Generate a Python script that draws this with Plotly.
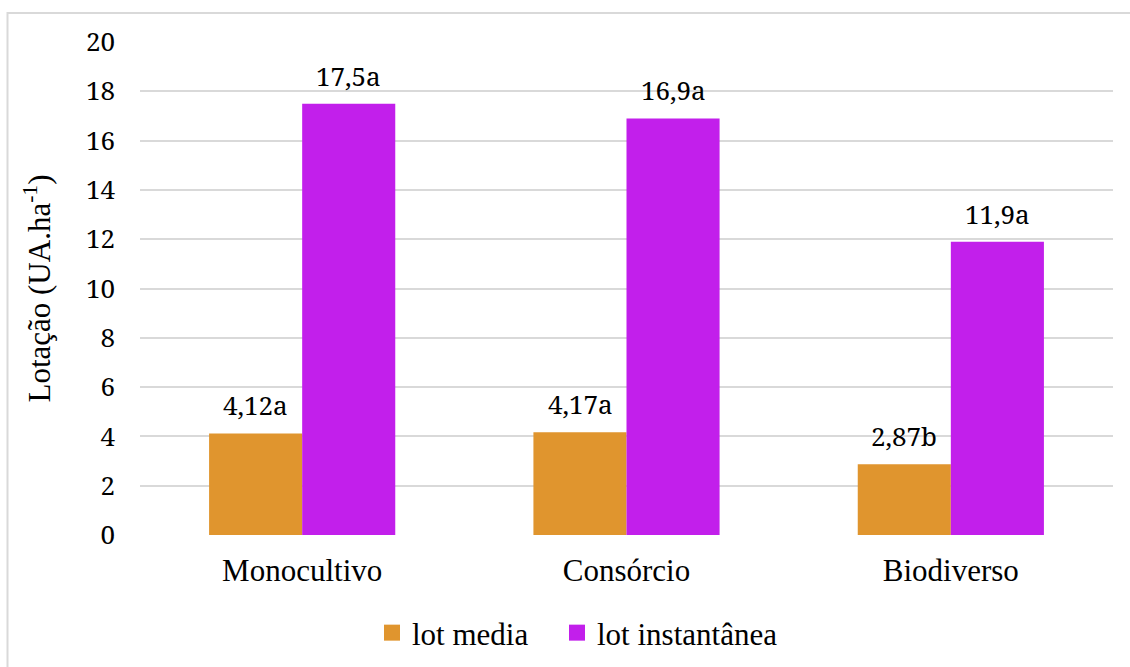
import plotly.graph_objects as go

# Stocking rate per production system
categories = ["Monocultivo", "Consórcio", "Biodiverso"]
lot_media = [4.12, 4.17, 2.87]
lot_media_letters = ["a", "a", "b"]
lot_inst = [17.5, 16.9, 11.9]
lot_inst_letters = ["a", "a", "a"]
y_ticks = [0, 2, 4, 6, 8, 10, 12, 14, 16, 18, 20]

ORANGE = "#E0952E"
PURPLE = "#C21FEB"
TEXT_FONT = "Liberation Serif"
NUM_FONT = "Noto Serif"
NUM_SIZE = 26
TXT_SIZE = 31

L, R, T, B = 140, 17, 42, 132
W, H = 1130, 667
pw = W - L - R
ph = H - T - B
BAR_HALF = 46.5  # px offset of each grouped bar centre from its category


def labels(values, letters):
    return [f"{str(v).replace('.', ',')}{l}" for v, l in zip(values, letters)]


fig = go.Figure()
fig.add_trace(go.Bar(
    x=categories, y=lot_media, name="lot media",
    marker=dict(color=ORANGE, line=dict(width=0)), showlegend=False,
))
fig.add_trace(go.Bar(
    x=categories, y=lot_inst, name="lot instantânea",
    marker=dict(color=PURPLE, line=dict(width=0)), showlegend=False,
))
# legend entries with square swatches, one legend box each
for name, color, lg in [("lot media", ORANGE, "legend"),
                        ("lot instantânea", PURPLE, "legend2")]:
    fig.add_trace(go.Scatter(
        x=[categories[0]], y=[None], mode="markers", name=name,
        marker=dict(symbol="square", size=16, color=color),
        showlegend=True, hoverinfo="skip", legend=lg,
    ))

# value labels above each bar
annotations = []
for vals, lets, shift in [(lot_media, lot_media_letters, -BAR_HALF),
                          (lot_inst, lot_inst_letters, BAR_HALF)]:
    for cat, v, txt in zip(categories, vals, labels(vals, lets)):
        annotations.append(dict(
            x=cat, y=v, xref="x", yref="y", text=txt, showarrow=False,
            xanchor="center", yanchor="bottom", xshift=shift, yshift=8,
            font=dict(family=NUM_FONT, size=NUM_SIZE, color="#000000"),
        ))

legend_common = dict(
    orientation="h", yanchor="middle", y=(H - B - 633) / ph, xanchor="left",
    font=dict(family=TEXT_FONT, size=TXT_SIZE, color="#000000"),
    bgcolor="rgba(0,0,0,0)", borderwidth=0,
)

fig.update_layout(
    width=W, height=H,
    margin=dict(l=L, r=R, t=T, b=B, pad=0, autoexpand=False),
    paper_bgcolor="white", plot_bgcolor="white",
    barmode="group", bargap=0.426, bargroupgap=0,
    font=dict(family=TEXT_FONT, color="#000000"),
    showlegend=True,
    legend=dict(x=(372 - L) / pw, **legend_common),
    legend2=dict(x=(557 - L) / pw, **legend_common),
    xaxis=dict(
        categoryorder="array", categoryarray=categories,
        showgrid=False, zeroline=False, showline=False, ticks="",
        tickfont=dict(family=TEXT_FONT, size=TXT_SIZE, color="#000000"),
        ticklabelstandoff=14,
    ),
    yaxis=dict(
        range=[0, 20], tickvals=y_ticks, showgrid=True,
        gridcolor="#D9D9D9", gridwidth=1.5, zeroline=False,
        showline=False, ticks="",
        tickfont=dict(family=NUM_FONT, size=NUM_SIZE, color="#000000"),
        ticklabelstandoff=24,
        title=dict(text="Lotação (UA.ha<sup>-1</sup>)",
                   font=dict(family=TEXT_FONT, size=TXT_SIZE, color="#000000"),
                   standoff=26),
    ),
    annotations=annotations,
    shapes=[dict(
        type="rect", xref="paper", yref="paper",
        x0=(7.5 - L) / pw, x1=(W + 20 - L) / pw,
        y0=(H - B - (H + 20)) / ph, y1=(H - B - 13) / ph,
        line=dict(color="#D9D9D9", width=2), fillcolor="rgba(0,0,0,0)",
        layer="below",
    )],
)

fig.write_html("out.html")
